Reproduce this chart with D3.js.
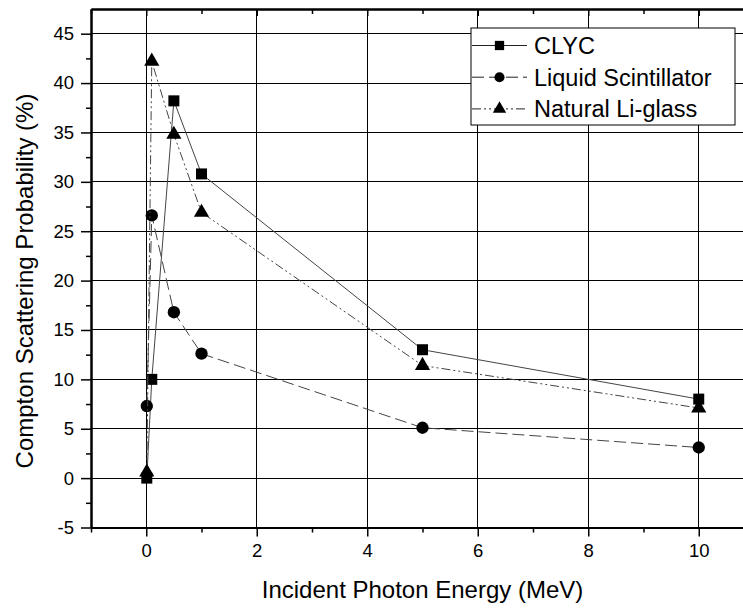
<!DOCTYPE html>
<html>
<head>
<meta charset="utf-8">
<script src="https://cdn.jsdelivr.net/npm/d3@7"></script>
<style>
  html, body { margin: 0; padding: 0; background: #fff; }
  svg { display: block; font-family: "Liberation Sans", Arial, sans-serif; }
</style>
</head>
<body>
<svg id="chart" width="743" height="610"></svg>
<script>
// Incident photon energy (MeV)
const energy = [0.01, 0.1, 0.5, 1, 5, 10];
// Compton scattering probability (%) per detector material
const clyc = [0.0, 10.0, 38.2, 30.8, 13.0, 8.0];
const liquid = [7.3, 26.6, 16.8, 12.6, 5.1, 3.1];
const liGlass = [0.6, 42.2, 34.8, 26.9, 11.4, 7.1];

const seriesNames = ["CLYC", "Liquid Scintillator", "Natural Li-glass"];
const xTicks = [0, 2, 4, 6, 8, 10];
const yTicks = [-5, 0, 5, 10, 15, 20, 25, 30, 35, 40, 45];

const svg = d3.select("#chart");
const plotLeft = 91, plotTop = 9, plotRight = 754, plotBottom = 527.5;

const x = d3.scaleLinear().domain([-1, 11]).range([plotLeft, plotRight]);
const y = d3.scaleLinear().domain([-5, 47.5]).range([plotBottom, plotTop]);

const series = [
  { name: seriesNames[0], values: clyc, symbol: d3.symbolSquare, size: 121, legendSize: 86, dash: null },
  { name: seriesNames[1], values: liquid, symbol: d3.symbolCircle, size: 120, legendSize: 80, dash: "12,5" },
  { name: seriesNames[2], values: liGlass, symbol: d3.symbolTriangle, size: 100, legendSize: 78, dash: "9,3,2,3,2,3" }
];

// grid
const grid = svg.append("g").attr("stroke", "#000").attr("stroke-width", 1).attr("shape-rendering", "crispEdges");
grid.selectAll("line.v").data(xTicks).join("line").attr("class", "v")
  .attr("x1", d => x(d)).attr("x2", d => x(d)).attr("y1", plotTop).attr("y2", plotBottom);
grid.selectAll("line.h").data(yTicks.filter(d => d > -5)).join("line").attr("class", "h")
  .attr("x1", plotLeft).attr("x2", plotRight).attr("y1", d => y(d)).attr("y2", d => y(d));

// axes
const xMinor = d3.range(-1, 12, 1).filter(d => d % 2 !== 0);
const yMinor = d3.range(-2.5, 47.5, 5);
const plain = d => String(d);

svg.append("g").attr("transform", `translate(0,${plotBottom})`)
  .call(d3.axisBottom(x).tickValues(xTicks).tickSize(9).tickSizeOuter(0).tickPadding(7).tickFormat(plain));
svg.append("g").attr("transform", `translate(0,${plotBottom})`)
  .call(d3.axisBottom(x).tickValues(xMinor).tickSize(5).tickSizeOuter(0).tickFormat(""));

svg.append("g").attr("transform", `translate(${plotLeft},0)`)
  .call(d3.axisLeft(y).tickValues(yTicks).tickSize(10).tickSizeOuter(0).tickPadding(7).tickFormat(plain));
svg.append("g").attr("transform", `translate(${plotLeft},0)`)
  .call(d3.axisLeft(y).tickValues(yMinor).tickSize(5).tickSizeOuter(0).tickFormat(""));

svg.append("g").attr("transform", `translate(0,${plotTop})`)
  .call(d3.axisTop(x).tickValues(xTicks).tickSize(-7).tickSizeOuter(0).tickFormat(""));
svg.append("g").attr("transform", `translate(0,${plotTop})`)
  .call(d3.axisTop(x).tickValues(xMinor).tickSize(-5).tickSizeOuter(0).tickFormat(""));

svg.selectAll(".domain").attr("stroke", "#000").attr("stroke-width", 2);
svg.selectAll(".tick line").attr("stroke", "#000").attr("stroke-width", 1.5);
svg.selectAll(".tick text").attr("font-size", 18.5).attr("fill", "#000")
  .attr("font-family", "'Liberation Sans', Arial, sans-serif");

// axis titles
svg.append("text")
  .attr("x", (plotLeft + plotRight) / 2).attr("y", 598)
  .attr("text-anchor", "middle").attr("font-size", 24)
  .text("Incident Photon Energy (MeV)");
svg.append("text")
  .attr("transform", `translate(33,281) rotate(-90)`)
  .attr("text-anchor", "middle").attr("font-size", 24)
  .text("Compton Scattering Probability (%)");

// series lines and markers
const line = d3.line().x((d, i) => x(energy[i])).y(d => y(d));
series.forEach(s => {
  svg.append("path").datum(s.values)
    .attr("d", line).attr("fill", "none")
    .attr("stroke", "#444").attr("stroke-width", 1)
    .attr("stroke-dasharray", s.dash);
  svg.append("g").selectAll("path").data(s.values).join("path")
    .attr("transform", (d, i) => `translate(${x(energy[i])},${y(d)})`)
    .attr("d", d3.symbol().type(s.symbol).size(s.size)())
    .attr("fill", "#000");
});

// legend
const lg = svg.append("g");
lg.append("rect").attr("x", 471).attr("y", 28).attr("width", 264).attr("height", 97)
  .attr("fill", "#fff").attr("stroke", "#000").attr("stroke-width", 1);
series.forEach((s, i) => {
  const yy = 45.5 + i * 31.7;
  lg.append("line").attr("x1", 472).attr("x2", 527).attr("y1", yy).attr("y2", yy)
    .attr("stroke", "#222").attr("stroke-width", 1).attr("stroke-dasharray", s.dash);
  lg.append("path").attr("transform", `translate(499.5,${yy})`)
    .attr("d", d3.symbol().type(s.symbol).size(s.legendSize)()).attr("fill", "#000");
  lg.append("text").attr("x", 534).attr("y", yy + 8.3)
    .attr("font-size", 23.5).attr("fill", "#000").text(s.name);
});
</script>
</body>
</html>
